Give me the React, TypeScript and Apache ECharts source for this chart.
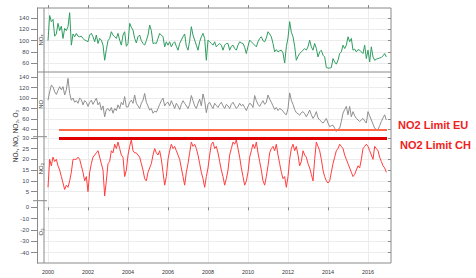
import React, { useEffect, useRef } from "react";
import * as echarts from "echarts";

const startYear = 2000;
const yearTicks = [2000, 2002, 2004, 2006, 2008, 2010, 2012, 2014, 2016];
const noxTicks = [60, 80, 100, 120, 140];
const noTicks = [40, 60, 80, 100, 120, 140];
const no2Ticks = [5, 10, 15, 20, 25, 30];
const o3Ticks = [0, -10, -20, -30, -40];

// monthly means, Jan 2000 .. Dec 2016
const nox = [
  100, 145, 134, 138, 108, 112, 131, 118, 126, 104, 122, 118,
  125, 150, 92, 112, 107, 113, 108, 107, 108, 104, 101, 100,
  98, 110, 113, 107, 98, 110, 95, 104, 101, 92, 65, 84,
  100, 104, 116, 110, 107, 104, 113, 101, 92, 110, 116, 90,
  95, 131, 124, 119, 104, 96, 107, 110, 100, 95, 92, 100,
  110, 128, 118, 95, 96, 95, 104, 113, 110, 107, 89, 98,
  92, 98, 89, 95, 98, 90, 83, 95, 101, 107, 112, 90,
  83, 100, 125, 110, 101, 92, 83, 98, 107, 113, 104, 65,
  101, 98, 95, 92, 98, 89, 92, 95, 92, 83, 92, 95,
  95, 83, 90, 92, 86, 83, 92, 98, 96, 95, 88, 77,
  90, 101, 98, 95, 92, 89, 98, 104, 107, 100, 98, 105,
  116, 112, 107, 95, 80, 84, 80, 82, 83, 78, 60, 89,
  105, 134, 115, 107, 90, 65, 72, 77, 80, 83, 86, 83,
  89, 101, 89, 83, 95, 86, 71, 80, 83, 74, 71, 52,
  51, 51, 52, 68, 62, 58, 65, 77, 80, 92, 86, 92,
  107, 98, 104, 83, 85, 80, 84, 83, 80, 77, 92, 68,
  83, 62, 89, 71, 65, 67, 68, 69, 70, 73, 77, 71,
];
const no = [
  96, 112, 125, 122, 112, 107, 115, 122, 116, 122, 106, 116,
  138, 109, 96, 100, 92, 95, 90, 100, 97, 87, 95, 92,
  84, 92, 96, 88, 94, 100, 87, 92, 77, 85, 64, 78,
  80, 75, 82, 71, 80, 76, 87, 80, 92, 87, 103, 83,
  83, 92, 96, 90, 106, 90, 85, 80, 90, 96, 109, 92,
  85, 77, 80, 71, 75, 73, 80, 88, 95, 100, 85, 90,
  92, 85, 95, 88, 80, 90, 85, 78, 88, 95, 90, 85,
  80, 88, 105, 95, 85, 80, 90, 98, 85, 108, 95, 72,
  88, 92, 85, 80, 90, 86, 82, 88, 92, 85, 80, 88,
  85, 80, 88, 92, 86, 80, 84, 90, 85, 88, 82, 76,
  84, 90, 88, 82, 105, 95, 88, 84, 90, 95, 88, 92,
  106, 98, 92, 85, 78, 82, 76, 80, 78, 75, 70, 68,
  80, 110, 96, 88, 78, 72, 70, 67, 72, 74, 70, 64,
  70, 77, 68, 61, 66, 74, 62, 58, 55, 52, 56, 61,
  52, 45, 47, 48, 42, 36, 40, 42, 55, 71, 78, 84,
  68, 84, 64, 74, 66, 61, 58, 55, 58, 61, 56, 52,
  74, 66, 58, 50, 42, 40, 39, 47, 55, 62, 68, 58,
];
const no2 = [
  7, 20, 17, 21, 19, 20, 17, 15, 12, 9, 6, 8,
  7, 10, 14, 20, 20, 20, 21, 20, 17, 14, 10, 12,
  5, 14, 18, 21, 22, 23, 24, 21, 18, 15, 3, 10,
  18, 19, 24, 23, 27, 25, 28, 25, 22, 21, 12, 15,
  22, 26, 29, 24, 23, 23, 22, 21, 18, 15, 11, 10,
  14, 16, 18, 22, 25, 23, 22, 24, 20, 14, 8, 12,
  20, 24, 27, 25, 26, 24, 22, 20, 16, 12, 8, 14,
  18, 23, 28, 26, 27, 25, 22, 18, 14, 11, 7, 12,
  16, 22, 27, 28, 25, 26, 23, 19, 15, 12, 8, 11,
  15, 22, 25, 28, 27, 29, 25, 21, 16, 12, 8, 10,
  14, 21, 24, 27, 25, 28, 23, 19, 15, 10, 8, 12,
  17, 23, 25, 26, 24, 27, 22, 18, 14, 11, 12, 7,
  12, 20, 25, 27, 24, 26, 22, 17, 19, 24, 22, 21,
  18, 16, 13, 10, 20, 28, 26, 24, 20, 15, 12, 10,
  9, 10, 14, 18, 21, 24, 25, 27, 26, 25, 22, 20,
  18, 16, 14, 12, 13, 15, 17, 16, 20, 25, 26, 27,
  26, 24, 22, 20, 26, 25, 24, 21, 19, 17, 16, 14,
];
const o3: number[] = [];

const panelNames = ["NOₓ", "NO", "NO₂", "O₃"];
const yTitle = "NOₓ, NO, NO₂, O₃";
const EU_LIMIT = 40;
const CH_LIMIT = 30;
const limitFrom = 2000.55;
const limitTo = 2016.95;
const limitLabels = ["NO2 Limit EU", "NO2 Limit CH"];

const toPairs = (vals: number[]) => vals.map((v, i) => [startYear + i / 12, v]);

const FRAME = "#8a8a8a";
const GRIDC = "#ececec";
const LABELC = "#3f4a60";
const FONT = "Liberation Sans, Arial, sans-serif";

const L = 44;
const R = 391;
const TOP = 8;
const BOT = 263;

const panels = [
  { name: panelNames[0], data: nox, ticks: noxTicks, min: 44, max: 158.4, top: 8, height: 64, color: "#2f9d5f" },
  { name: panelNames[1], data: no, ticks: noTicks, min: 25.8, max: 150.2, top: 72, height: 64.7, color: "#8f8f8f" },
  { name: panelNames[2], data: no2, ticks: no2Ticks, min: 0.8, max: 30.5, top: 136.7, height: 64, color: "#ff3d3d" },
  { name: panelNames[3], data: o3, ticks: o3Ticks, min: -49.2, max: 5.8, top: 200.7, height: 62.3, color: "#333" },
];

export default function App() {
  const ref = useRef<HTMLDivElement>(null);
  useEffect(() => {
    if (!ref.current) return;
    const chart = echarts.init(ref.current, undefined, { renderer: "svg", width: 476, height: 278 });

    const grid = panels.map((p) => ({ left: L, top: p.top, width: R - L, height: p.height, show: false }));

    const xAxis = panels.map((p, k) => ({
      gridIndex: k,
      type: "value",
      min: 1999.8,
      max: 2017.15,
      position: k === 0 ? "top" : "bottom",
      axisLine: { show: false },
      axisTick: {
        show: k === 0 || k === panels.length - 1,
        length: 3,
        customValues: yearTicks,
        lineStyle: { color: FRAME, width: 1 },
      },
      axisLabel: {
        show: k === panels.length - 1,
        customValues: yearTicks,
        fontSize: 5.5,
        color: "#333",
        margin: 6,
        fontFamily: FONT,
        formatter: (v: number) => String(v),
      },
      splitLine: { show: true, lineStyle: { color: GRIDC, width: 1 } },
    }));

    const yAxis: any[] = [];
    panels.forEach((p, k) => {
      yAxis.push({
        gridIndex: k,
        type: "value",
        position: "left",
        offset: 7,
        min: p.min,
        max: p.max,
        axisLine: { show: true, lineStyle: { color: FRAME, width: 1 } },
        axisTick: { show: true, length: 6, customValues: p.ticks, lineStyle: { color: FRAME } },
        axisLabel: { show: true, customValues: p.ticks, fontSize: 6, color: LABELC, margin: 8, fontFamily: FONT },
        splitLine: { show: true, lineStyle: { color: GRIDC, width: 1 } },
      });
    });
    panels.forEach((p, k) => {
      yAxis.push({
        gridIndex: k,
        type: "value",
        position: "right",
        min: p.min,
        max: p.max,
        axisLine: { show: false },
        axisTick: { show: true, inside: true, length: 3, customValues: p.ticks, lineStyle: { color: FRAME } },
        axisLabel: { show: false },
        splitLine: { show: false },
      });
    });

    const series: any[] = panels.map((p, k) => {
      const s: any = {
        type: "line",
        xAxisIndex: k,
        yAxisIndex: k,
        data: toPairs(p.data),
        showSymbol: false,
        symbol: "none",
        lineStyle: { color: p.color, width: 1 },
        itemStyle: { color: p.color },
        z: 3,
      };
      if (k === 1) {
        s.markLine = {
          silent: true,
          symbol: ["none", "none"],
          label: { show: false },
          lineStyle: { color: "#ff6a4a", width: 2, type: "solid" },
          data: [[{ coord: [limitFrom, EU_LIMIT] }, { coord: [limitTo, EU_LIMIT] }]],
        };
      }
      if (k === 2) {
        s.markLine = {
          silent: true,
          symbol: ["none", "none"],
          label: { show: false },
          lineStyle: { color: "#e10000", width: 3, type: "solid" },
          data: [[{ coord: [limitFrom, CH_LIMIT] }, { coord: [limitTo, CH_LIMIT] }]],
        };
      }
      return s;
    });

    const line = (x1: number, y1: number, x2: number, y2: number) => ({
      type: "line",
      shape: { x1, y1, x2, y2 },
      style: { stroke: FRAME, lineWidth: 1 },
      z: 10,
      silent: true,
    });

    const graphic: any[] = [
      line(37, TOP, R, TOP),
      line(37, BOT, R, BOT),
      line(L, TOP, L, BOT),
      line(R, TOP, R, BOT),
      line(37, panels[1].top, R, panels[1].top),
      line(33, panels[2].top, 47, panels[2].top),
      line(33, panels[3].top, 47, panels[3].top),
      ...panels.map((p) => ({
        type: "text",
        x: 40.5,
        y: p.top + p.height / 2,
        rotation: Math.PI / 2,
        style: {
          text: p.name,
          fontSize: 6,
          fill: "#333",
          fontFamily: FONT,
          align: "center",
          verticalAlign: "middle",
        },
        z: 11,
      })),
      {
        type: "text",
        x: 15,
        y: 136,
        rotation: Math.PI / 2,
        style: {
          text: yTitle,
          fontSize: 6.5,
          fill: "#333",
          fontFamily: FONT,
          align: "center",
          verticalAlign: "middle",
        },
      },
      {
        type: "text",
        x: 398,
        y: 125,
        style: {
          text: limitLabels[0],
          fontSize: 11,
          fontWeight: "bold",
          fill: "#f01e1e",
          fontFamily: FONT,
          align: "left",
          verticalAlign: "middle",
        },
      },
      {
        type: "text",
        x: 400,
        y: 145,
        style: {
          text: limitLabels[1],
          fontSize: 11,
          fontWeight: "bold",
          fill: "#f01e1e",
          fontFamily: FONT,
          align: "left",
          verticalAlign: "middle",
        },
      },
    ];

    chart.setOption({
      animation: false,
      backgroundColor: "#fff",
      grid,
      xAxis,
      yAxis,
      series,
      graphic,
    } as any);

    return () => chart.dispose();
  }, []);
  return <div ref={ref} style={{ position: "absolute", left: 0, top: 0, width: 476, height: 278 }} />;
}
